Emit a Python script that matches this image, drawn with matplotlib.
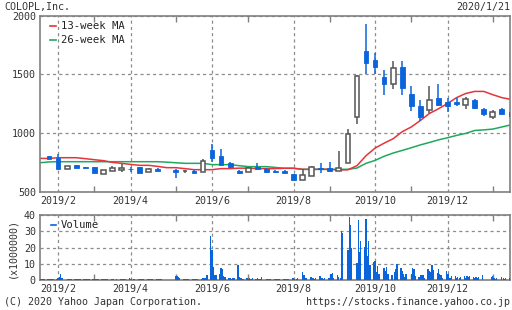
import matplotlib
matplotlib.use("Agg")
import matplotlib.pyplot as plt
from matplotlib.patches import Rectangle

plt.rcParams['font.family'] = ['DejaVu Sans Mono']

# ---- weekly candles (week index 0 = week of 2019-01-21) ----
cw = [1, 2, 3, 4, 5, 6, 7, 8, 9, 10, 11, 12, 13, 15, 16, 17, 18, 19, 20, 21, 22, 23, 24, 25, 26,
      27, 28, 29, 30, 31, 32, 33, 34, 35, 36, 37, 38, 39, 40, 41, 42, 43, 44, 45, 46, 47, 48, 49,
      50, 51, 52]
c_open = [799, 788, 692, 723, 704, 706, 652, 675, 680, 690, 706, 669, 692, 683, 674, 675, 669, 850,
          799, 740, 675, 666, 712, 695, 670, 675, 647, 596, 636, 697, 698, 678, 746, 1136, 1698,
          1621, 1480, 1415, 1559, 1333, 1231, 1197, 1297, 1263, 1260, 1234, 1276, 1206, 1136, 1206,
          1175]
c_high = [805, 822, 718, 728, 712, 708, 686, 714, 731, 712, 708, 697, 697, 695, 684, 683, 774, 909,
          858, 750, 683, 706, 740, 703, 684, 683, 650, 689, 717, 746, 748, 844, 1036, 1490, 1926,
          1678, 1536, 1613, 1613, 1395, 1276, 1401, 1418, 1297, 1297, 1305, 1290, 1208, 1195, 1208,
          1180]
c_low = [775, 688, 690, 698, 698, 656, 645, 673, 670, 663, 656, 663, 672, 615, 655, 655, 666, 750,
         723, 700, 648, 664, 683, 655, 660, 655, 596, 594, 632, 658, 670, 676, 744, 1076, 1500,
         1500, 1319, 1375, 1319, 1183, 1104, 1166, 1226, 1178, 1226, 1203, 1203, 1146, 1119, 1158,
         1140]
c_close = [777, 690, 714, 700, 702, 658, 680, 697, 697, 688, 658, 689, 676, 666, 676, 658, 763, 782,
           726, 710, 660, 703, 690, 670, 668, 660, 598, 644, 709, 693, 676, 703, 986, 1486, 1598,
           1565, 1412, 1551, 1378, 1226, 1136, 1282, 1234, 1226, 1243, 1288, 1212, 1158, 1178, 1161,
           1147]

# ---- moving averages, weeks 0..52 ----
ma_weeks = list(range(53))
ma13 = [782, 782, 788, 788, 788, 780, 771, 763, 748, 740, 731, 723, 723, 714, 703, 703, 695, 686,
        686, 686, 695, 695, 699, 699, 695, 695, 695, 698, 698, 689, 689, 689, 689, 683, 685, 720,
        805, 870, 912, 950, 1010, 1050, 1105, 1165, 1205, 1250, 1300, 1335, 1353, 1353, 1325, 1300,
        1285]
ma26 = [745, 752, 754, 754, 754, 754, 754, 754, 754, 754, 754, 754, 754, 754, 750, 745, 740, 740,
        740, 729, 729, 729, 720, 712, 712, 712, 705, 698, 698, 689, 689, 689, 689, 689, 689, 700,
        740, 765, 800, 828, 850, 873, 897, 918, 940, 958, 978, 995, 1020, 1025, 1032, 1050, 1068]

# ---- daily volume (millions), Mon..Fri per week 0..52 ----
volume = [
    [0.6, 0.7, 0.6, 0.8, 0.7], [0.7, 0.8, 0.6, 0.7, 0.9], [0.8, 1.0, 2.0, 4.0, 1.5],
    [0, 0.9, 0.8, 0.7, 0.7], [0.7, 0.6, 0.8, 0.7, 0.6], [0.8, 0.7, 0.6, 0.7, 0.8],
    [0.9, 0.7, 0.8, 0.6, 0.7], [0.7, 0.8, 0.7, 0.9, 0.6], [0.8, 0.7, 0.6, 0, 0.9],
    [0.7, 0.8, 0.9, 0.7, 0.6], [1.0, 0.8, 0.7, 0.8, 0.6], [0.7, 0.6, 0.8, 0.7, 0.7],
    [0.6, 0.7, 0.6, 0.8, 0.7], [0.7, 0.6, 0.7, 0.6, 0.8], [0, 0, 0, 0, 0],
    [0, 2.7, 2.2, 1.8, 1.4], [0.9, 0.8, 0.7, 0.8, 0.7], [0.8, 0.7, 0.9, 0.7, 0.8],
    [0.8, 1.2, 1.0, 1.4, 3.0], [27.3, 18.2, 8.0, 3.0, 3.0], [3.6, 7.5, 6.5, 2.7, 2.0],
    [1.0, 1.1, 0.9, 1.2, 1.0], [9.4, 2.0, 1.4, 1.0, 0.8], [1.0, 0.9, 1.0, 0.8, 1.1],
    [0.9, 1.4, 0.9, 0.8, 2.0], [0, 0.8, 0.7, 0.9, 0.8], [0.7, 0.8, 0.7, 0.6, 0.8],
    [0.8, 0.7, 0.8, 0.7, 0.6], [1.4, 1.3, 0.9, 0.8, 1.2], [0, 5.0, 3.0, 1.2, 1.0],
    [2.0, 1.8, 1.0, 0.9, 1.0], [2.6, 2.4, 1.0, 0.8, 1.2], [1.4, 1.2, 4.0, 4.6, 1.0],
    [2.8, 2.0, 1.5, 30.3, 29.0], [0, 18.6, 38.8, 34.0, 20.0], [0, 10.7, 36.8, 17.2, 24.2],
    [20.2, 37.4, 14.5, 24.2, 9.1], [11.1, 11.7, 5.0, 8.5, 4.0], [0, 7.1, 5.7, 7.7, 3.6],
    [2.8, 0, 4.8, 6.5, 10.1], [7.1, 5.5, 3.4, 2.0, 3.4], [0, 3.4, 7.1, 6.5, 2.5],
    [2.0, 2.8, 3.0, 3.0, 1.5], [6.5, 5.5, 5.0, 9.1, 6.0], [4.4, 6.5, 3.6, 3.0, 1.5],
    [5.7, 4.0, 3.6, 1.5, 2.4], [2.4, 1.5, 2.0, 1.2, 2.0], [2.4, 1.5, 2.4, 2.0, 2.4],
    [2.0, 1.5, 1.8, 1.2, 2.0], [3.0, 0, 0, 0, 0], [2.0, 2.4, 1.4, 0.8, 1.0],
    [0, 2.0, 1.4, 0.8, 1.0], [1.0, 1.4, 0, 0, 0],
]

major_weeks = [2, 10, 19, 28, 37, 45]
major_labels = ['2019/2', '2019/4', '2019/6', '2019/8', '2019/10', '2019/12']
minor_weeks = [6, 15, 23, 32, 41, 50]

BLUE = '#0a64dc'
HOLLOW = '#555555'
RED = '#e8333a'
GREEN = '#1fa860'
SPINE = '#808080'
GRID = '#8c8c8c'
TXT = '#333333'
FS = 7.2

fig = plt.figure(figsize=(5.12, 3.10), dpi=100)
ax = fig.add_axes([40 / 512, 1 - 191.5 / 310, 470 / 512, 176 / 310])
axv = fig.add_axes([40 / 512, 1 - 280 / 310, 470 / 512, 65 / 310])

XL = (0.0, 51.9)

def style(a):
    for s in a.spines.values():
        s.set_color(SPINE)
        s.set_linewidth(1.2)
    a.set_xlim(*XL)
    a.set_xticks(major_weeks)
    a.set_xticklabels(major_labels)
    a.set_xticks(minor_weeks, minor=True)
    a.tick_params(axis='x', which='major', length=0, pad=3, labelsize=FS, colors=TXT)
    a.tick_params(axis='x', which='minor', direction='in', length=4, top=True, bottom=True,
                  color=SPINE, width=1)
    a.tick_params(axis='y', which='major', length=0, pad=3, labelsize=FS, colors=TXT)
    a.grid(True, which='major', color=GRID, linestyle=(0, (2.5, 2.5)), linewidth=0.9)
    a.set_axisbelow(True)

style(ax)
style(axv)

# main price chart
ax.set_ylim(500, 2000)
ax.set_yticks([500, 1000, 1500, 2000])
bw = 0.52
for w, o, h, l, c in zip(cw, c_open, c_high, c_low, c_close):
    up = c >= o
    col = HOLLOW if up else BLUE
    ax.plot([w, w], [l, h], color=col, lw=1.1, zorder=3, solid_capstyle='butt')
    lo = min(o, c)
    hgt = max(abs(c - o), 4)
    if up:
        ax.add_patch(Rectangle((w - bw / 2, lo), bw, hgt, facecolor='white', edgecolor=HOLLOW,
                               lw=1.1, zorder=4))
    else:
        ax.add_patch(Rectangle((w - bw / 2, lo), bw, hgt, facecolor=BLUE, edgecolor=BLUE,
                               lw=0.6, zorder=4))

ax.plot(ma_weeks, ma26, color=GREEN, lw=1.1, zorder=2)
ax.plot(ma_weeks, ma13, color=RED, lw=1.1, zorder=2.5)

# legend (main)
ax.plot([0.022, 0.034], [0.942, 0.942], color=RED, lw=1.2, transform=ax.transAxes)
ax.text(0.045, 0.942, '13-week MA', transform=ax.transAxes, fontsize=FS + 0.4, color='#222',
        va='center', ha='left')
ax.plot([0.022, 0.034], [0.8625, 0.8625], color=GREEN, lw=1.2, transform=ax.transAxes)
ax.text(0.045, 0.8625, '26-week MA', transform=ax.transAxes, fontsize=FS + 0.4, color='#222',
        va='center', ha='left')

# volume chart
axv.set_ylim(0, 40)
axv.set_yticks([0, 10, 20, 30, 40])
vx, vy = [], []
for w, row in enumerate(volume):
    for d, v in enumerate(row):
        if v > 0:
            vx.append(w + (d - 1) / 7)
            vy.append(v)
axv.bar(vx, vy, width=0.14, color=BLUE, linewidth=0, zorder=3)
axv.plot([0.024, 0.034], [0.846, 0.846], color=BLUE, lw=1.2, transform=axv.transAxes)
axv.text(0.045, 0.846, 'Volume', transform=axv.transAxes, fontsize=FS + 0.4, color='#222',
         va='center', ha='left')
fig.text(12 / 512, 1 - 248 / 310, '(x1000000)', rotation=90, ha='center', va='center',
         fontsize=FS, color=TXT)

# header / footer texts
fig.text(4 / 512, 1 - 7 / 310, 'COLOPL,Inc.', ha='left', va='center', fontsize=FS, color=TXT)
fig.text(510 / 512, 1 - 7 / 310, '2020/1/21', ha='right', va='center', fontsize=FS, color=TXT)
fig.text(4 / 512, 1 - 302 / 310, '(C) 2020 Yahoo Japan Corporation.', ha='left', va='center',
         fontsize=FS, color=TXT)
fig.text(510 / 512, 1 - 302 / 310, 'https://stocks.finance.yahoo.co.jp', ha='right', va='center',
         fontsize=FS, color=TXT)

fig.savefig('out.png', dpi=100)
